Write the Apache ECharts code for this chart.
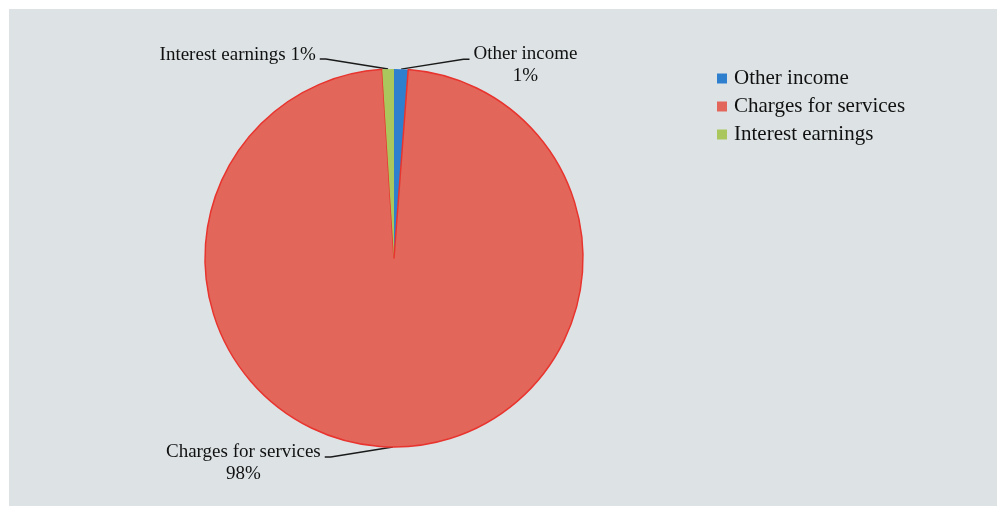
<!DOCTYPE html>
<html>
<head>
<meta charset="utf-8">
<script src="https://cdn.jsdelivr.net/npm/echarts@6/dist/echarts.min.js"></script>
<style>
  html, body { margin: 0; padding: 0; background: #ffffff; }
  #chart { width: 997px; height: 506px; }
</style>
</head>
<body>
<div id="chart"></div>
<script>
// Data
var categories = ['Other income', 'Charges for services', 'Interest earnings'];
var values = [1.2, 97.8, 1.0];
var colors = ['#2f7fcf', '#e3665a', '#a9c75c'];
var twoLineLabels = ['Other income', 'Charges for services'];

var chart = echarts.init(document.getElementById('chart'));
var serif = '"Liberation Serif", "Times New Roman", serif';

var pieData = categories.map(function (name, i) {
  var item = { name: name, value: values[i], itemStyle: { color: colors[i] } };
  if (name === 'Charges for services') {
    item.itemStyle.borderColor = '#e8342e';
    item.itemStyle.borderWidth = 1.5;
  }
  if (twoLineLabels.indexOf(name) >= 0) {
    item.label = { padding: [12, 0, 0, 0] };
  } else {
    item.label = { padding: [0, 0, 8, 0] };
  }
  return item;
});

chart.setOption({
  backgroundColor: '#ffffff',
  animation: false,
  graphic: [{
    type: 'rect',
    left: 9, top: 9, z: -10,
    shape: { width: 988, height: 497 },
    style: { fill: '#dde3e5' }
  }],
  legend: {
    orient: 'vertical',
    left: 712,
    top: 63,
    itemWidth: 10,
    itemHeight: 10,
    itemGap: 7,
    icon: 'rect',
    data: categories,
    itemStyle: { borderWidth: 0 },
    textStyle: { fontFamily: serif, fontSize: 21, color: '#111', lineHeight: 21, padding: [0, 0, 0, 2] }
  },
  series: [{
    type: 'pie',
    center: [394, 258],
    radius: 189,
    startAngle: 90,
    clockwise: true,
    data: pieData,
    label: {
      show: true,
      position: 'outside',
      fontFamily: serif,
      fontSize: 19,
      color: '#111',
      distanceToLabelLine: 4,
      formatter: function (p) {
        var pct = Math.round(p.percent) + '%';
        if (twoLineLabels.indexOf(p.name) >= 0) {
          return '{c|' + p.name + '}\n{c|' + pct + '}';
        }
        return p.name + ' ' + pct;
      },
      rich: {
        c: { align: 'center', fontFamily: serif, fontSize: 19, color: '#111', lineHeight: 22 }
      }
    },
    labelLine: {
      show: true,
      length: 10,
      length2: 68,
      lineStyle: { color: '#1a1a1a', width: 1.5 }
    },
    labelLayout: function (p) {
      var pts = p.labelLinePoints;
      if (!pts || pts.length < 3) return {};
      var end = pts[2];
      var dir = end[0] > pts[1][0] ? 1 : -1;
      return { labelLinePoints: [pts[0], [end[0] - dir * 6, end[1]], end] };
    },
    emphasis: { disabled: true }
  }]
});
</script>
</body>
</html>
